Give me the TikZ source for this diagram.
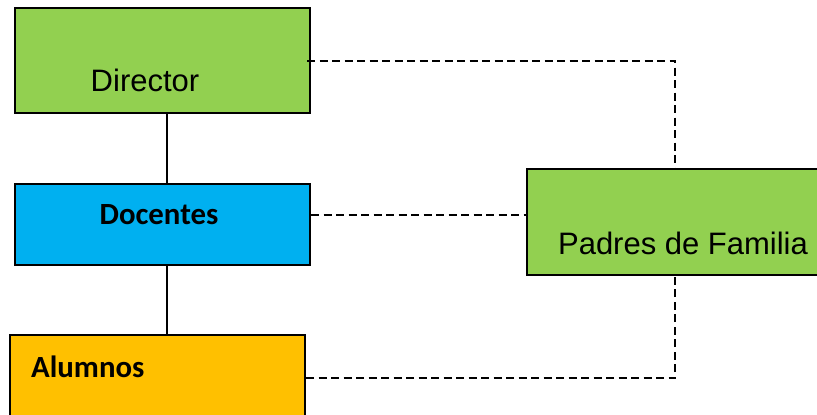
\documentclass[tikz,border=0pt]{standalone}
\usepackage{fontspec}
\setmainfont{Liberation Sans}
\newfontfamily\calibrifont{Carlito}
\usetikzlibrary{positioning}
\definecolor{OrgGreen}{HTML}{92D050}
\definecolor{OrgBlue}{HTML}{00B0F0}
\definecolor{OrgGold}{HTML}{FFC000}
\tikzset{
  % Box styles
  orgbox/.style={rectangle, draw=black, line width=2pt, minimum width=295pt, inner sep=0pt},
  % Text styles
  plaintext/.style={font=\fontsize{31}{36}\selectfont, inner sep=0pt},
  boldtext/.style={font=\calibrifont\bfseries\fontsize{30.8}{36}\selectfont, inner sep=0pt},
  % Line styles
  solidline/.style={line width=2pt},
  dashline/.style={line width=2pt, dash pattern=on 8pt off 4.5pt}
}
\begin{document}
\begin{tikzpicture}[x=1pt, y=-1pt]
  \useasboundingbox (0,0) rectangle (817,415);
  \clip (0,0) rectangle (817,415);

  % Boxes
  \node[orgbox, fill=OrgGreen, minimum height=105pt] (dir) at (162.5,60.5) {};
  \node[orgbox, fill=OrgBlue, minimum height=81pt] (doc) at (162.5,224.5) {};
  \node[orgbox, fill=OrgGold, minimum height=105pt] (alu) at (157.5,387.5) {};
  \node[orgbox, fill=OrgGreen, minimum width=303pt, minimum height=106pt] (pad) at (678.5,222) {};

  % Labels
  \node[plaintext] (dirtext) at (145,80) {Director};
  \node[boldtext] (doctext) at (159,215) {Docentes};
  \node[boldtext, anchor=west] (alutext) at (31,367) {Alumnos};
  \node[plaintext] (padtext) at (683,243) {Padres de Familia};

  % Solid links
  \draw[solidline] ([xshift=4.5pt]dir.south) -- ([xshift=4.5pt]doc.north);
  \draw[solidline] ([xshift=4.5pt]doc.south) -- ([xshift=4.5pt]doc.south |- alu.north);

  % Dashed links
  \draw[dashline] ([xshift=-4pt]dir.east) -| ([xshift=-3.5pt]pad.north);
  \draw[dashline] ([yshift=9.5pt]doc.east) -- ([yshift=9.5pt]doc.east -| pad.west);
  \draw[dashline] ([yshift=9.5pt]alu.east) -| ([xshift=-3.5pt]pad.south);
\end{tikzpicture}
\end{document}
